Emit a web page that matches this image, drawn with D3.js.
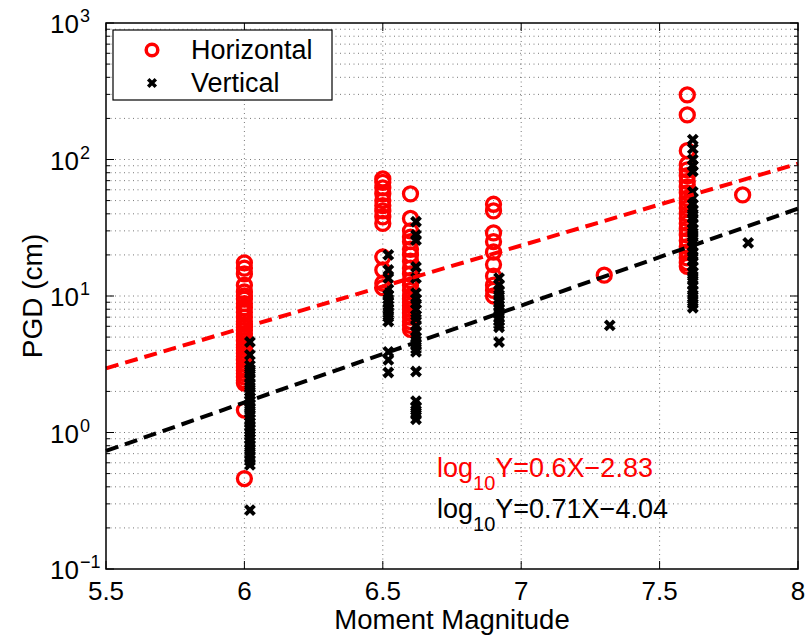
<!DOCTYPE html>
<html>
<head>
<meta charset="utf-8">
<script src="https://cdn.jsdelivr.net/npm/d3@7"></script>
<style>
  html, body { margin: 0; padding: 0; background: #fff; }
  svg { display: block; font-family: "Liberation Sans", Arial, Helvetica, sans-serif; }
</style>
</head>
<body>
<div id="chart"></div>
<script>
// magnitudes of the events (horizontal at M, vertical plotted slightly right)
const magH = [6, 6.5, 6.6, 6.9, 7.3, 7.6, 7.8]
const magV = [6.02, 6.52, 6.62, 6.92, 7.32, 7.62, 7.82]

// PGD values (cm), one list per event
const pgdH = [
    [17.5, 16, 14.5, 12, 10.7, 10, 9.5, 8.8, 8.2, 7.6, 7, 6.5, 6.2, 5.9, 5.6, 5.3, 5, 4.7, 4.4, 4.2, 4, 3.8, 3.6, 3.4, 3.2, 3, 2.85, 2.7, 2.55, 2.4, 2.3, 1.46, 0.46],
    [72, 68, 62, 56, 50, 46, 42, 38, 34, 19.3, 15.5, 12.4, 11.5],
    [56, 37, 30, 27, 25, 22, 20, 18, 16, 14.5, 13, 12, 11, 10, 9.5, 9, 8.5, 8, 7.5, 7, 6.5, 6.1, 5.7],
    [47, 42, 29, 25, 21, 17, 14, 12, 11, 10],
    [14.2],
    [297, 212, 116, 92, 84, 76, 69, 63, 57, 52, 48, 44, 40, 37, 34, 31, 28, 25.5, 23, 21, 19, 17.5, 16.5],
    [55]
]
const pgdV = [
    [4.6, 3.7, 3.1, 2.9, 2.7, 2.5, 2.3, 2.15, 2, 1.9, 1.8, 1.7, 1.6, 1.5, 1.4, 1.32, 1.25, 1.18, 1.1, 1.05, 1, 0.95, 0.9, 0.85, 0.8, 0.75, 0.7, 0.66, 0.62, 0.58, 0.27],
    [20, 15.5, 13.5, 11.2, 10.2, 9.5, 9, 8.5, 8, 7.5, 7, 6.5, 3.9, 3.4, 2.75],
    [35, 28, 25.7, 16.3, 13.5, 10.5, 9.5, 8.8, 8, 7.2, 6.8, 6, 5.5, 5, 4.7, 4.4, 4.1, 3.9, 2.8, 1.7, 1.55, 1.45, 1.35, 1.25],
    [13.5, 12, 11, 10.2, 9.5, 9, 8.5, 8, 7.5, 7, 6.6, 6.2, 5.9, 4.6],
    [6.1],
    [140, 120, 100, 90, 82, 58, 52, 47, 43, 40, 37, 34, 31, 29, 27, 25, 23, 21, 19.5, 18, 16.5, 15, 14, 13, 12, 11, 10.2, 9.5, 8.8, 8.2],
    [24.5]
]

// regression lines log10(Y) = a*X + b
const fitH = {a: 0.6, b: -2.83, label: '0.6X\u22122.83'}
const fitV = {a: 0.71, b: -4.04, label: '0.71X\u22124.04'}

const xTicks = [5.5, 6, 6.5, 7, 7.5, 8]
const yExp = [-1, 0, 1, 2, 3]

const width = 809
const height = 640
const pL = 106, pR = 798, pT = 23, pB = 569

const svg = d3.select('#chart').append('svg')
    .attr('width', width)
    .attr('height', height)

const x = d3.scaleLinear().domain([5.5, 8]).range([pL, pR])
const y = d3.scaleLog().domain([0.1, 1000]).range([pB, pT])

// grid: dotted, major x, major+minor y
const grid = svg.append('g')
    .attr('stroke', '#555')
    .attr('stroke-width', 0.8)
    .attr('stroke-dasharray', '1,3.5')
const yMinor = []
for (let e = -1; e < 3; e++) {
    for (let k = 1; k <= 9; k++) yMinor.push(k * Math.pow(10, e))
}
yMinor.push(1000)
grid.selectAll('line.gy')
    .data(yMinor.filter(v => v > 0.1 && v < 1000))
    .join('line')
    .attr('class', 'gy')
    .attr('x1', pL).attr('x2', pR)
    .attr('y1', d => y(d)).attr('y2', d => y(d))
grid.selectAll('line.gx')
    .data(xTicks.slice(1, -1))
    .join('line')
    .attr('class', 'gx')
    .attr('y1', pT).attr('y2', pB)
    .attr('x1', d => x(d)).attr('x2', d => x(d))

// ticks (inward)
const ticks = svg.append('g').attr('stroke', '#000').attr('stroke-width', 1)
xTicks.forEach(v => {
    ticks.append('line').attr('x1', x(v)).attr('x2', x(v)).attr('y1', pB).attr('y2', pB - 8)
    ticks.append('line').attr('x1', x(v)).attr('x2', x(v)).attr('y1', pT).attr('y2', pT + 8)
})
yMinor.forEach(v => {
    const major = Math.abs(Math.log10(v) - Math.round(Math.log10(v))) < 1e-9
    const len = major ? 8 : 4
    ticks.append('line').attr('x1', pL).attr('x2', pL + len).attr('y1', y(v)).attr('y2', y(v))
    ticks.append('line').attr('x1', pR).attr('x2', pR - len).attr('y1', y(v)).attr('y2', y(v))
})

// tick labels
svg.append('g').selectAll('text')
    .data(xTicks)
    .join('text')
    .attr('x', d => x(d))
    .attr('y', 600)
    .attr('text-anchor', 'middle')
    .attr('font-size', 26)
    .text(d => d)

const yl = svg.append('g').selectAll('g')
    .data(yExp)
    .join('g')
    .attr('transform', d => `translate(0, ${y(Math.pow(10, d))})`)
yl.append('text')
    .attr('x', 79).attr('y', 10)
    .attr('text-anchor', 'end')
    .attr('font-size', 26)
    .text('10')
yl.append('text')
    .attr('x', 80).attr('y', -1)
    .attr('font-size', 18)
    .text(d => d < 0 ? '\u2212' + Math.abs(d) : d)

// axis titles
svg.append('text')
    .attr('x', (pL + pR) / 2).attr('y', 629)
    .attr('text-anchor', 'middle')
    .attr('font-size', 27.5)
    .text('Moment Magnitude')
svg.append('text')
    .attr('transform', `translate(42, ${(pT + pB) / 2}) rotate(-90)`)
    .attr('text-anchor', 'middle')
    .attr('font-size', 28)
    .text('PGD (cm)')

// markers
const plot = svg.append('g')
const ptsH = magH.flatMap((m, i) => pgdH[i].map(v => ({m, v})))
const ptsV = magV.flatMap((m, i) => pgdV[i].map(v => ({m, v})))

plot.selectAll('circle')
    .data(ptsH)
    .join('circle')
    .attr('cx', d => x(d.m))
    .attr('cy', d => y(d.v))
    .attr('r', 7)
    .attr('fill', 'none')
    .attr('stroke', '#ff0000')
    .attr('stroke-width', 3.3)

const cross = 'M-4.5,-4.5L4.5,4.5M-4.5,4.5L4.5,-4.5'
plot.selectAll('path.v')
    .data(ptsV)
    .join('path')
    .attr('class', 'v')
    .attr('transform', d => `translate(${x(d.m)}, ${y(d.v)})`)
    .attr('d', cross)
    .attr('stroke', '#000')
    .attr('stroke-width', 4)

// regression lines
const line = d3.line().x(d => x(d[0])).y(d => y(d[1]))
;[[fitH, '#ff0000'], [fitV, '#000']].forEach(([f, c]) => {
    const ends = [5.5, 8].map(m => [m, Math.pow(10, f.a * m + f.b)])
    svg.append('path')
        .attr('d', line(ends))
        .attr('fill', 'none')
        .attr('stroke', c)
        .attr('stroke-width', 4)
        .attr('stroke-dasharray', '13,7')
})

// equations
;[[fitH, '#ff0000', 477], [fitV, '#000', 518]].forEach(([f, c, by]) => {
    const t = svg.append('text')
        .attr('x', 437).attr('y', by)
        .attr('font-size', 27)
        .attr('fill', c)
    t.append('tspan').text('log')
    t.append('tspan').attr('font-size', 20).attr('dy', 13).text('10')
    t.append('tspan').attr('dy', -13).text('Y=' + f.label)
})

// frame
svg.append('rect')
    .attr('x', pL).attr('y', pT)
    .attr('width', pR - pL).attr('height', pB - pT)
    .attr('fill', 'none')
    .attr('stroke', '#000')
    .attr('stroke-width', 1.5)

// legend
const lg = svg.append('g')
lg.append('rect')
    .attr('x', 113).attr('y', 30)
    .attr('width', 219).attr('height', 70)
    .attr('fill', '#fff')
    .attr('stroke', '#000')
    .attr('stroke-width', 1.2)
lg.append('circle')
    .attr('cx', 152).attr('cy', 50).attr('r', 5.8)
    .attr('fill', 'none').attr('stroke', '#ff0000').attr('stroke-width', 3.5)
lg.append('path')
    .attr('transform', 'translate(152, 83)')
    .attr('d', 'M-3.8,-3.8L3.8,3.8M-3.8,3.8L3.8,-3.8')
    .attr('stroke', '#000').attr('stroke-width', 3.5)
lg.append('text').attr('x', 191).attr('y', 59).attr('font-size', 27).text('Horizontal')
lg.append('text').attr('x', 191).attr('y', 92).attr('font-size', 27).text('Vertical')
</script>
</body>
</html>
